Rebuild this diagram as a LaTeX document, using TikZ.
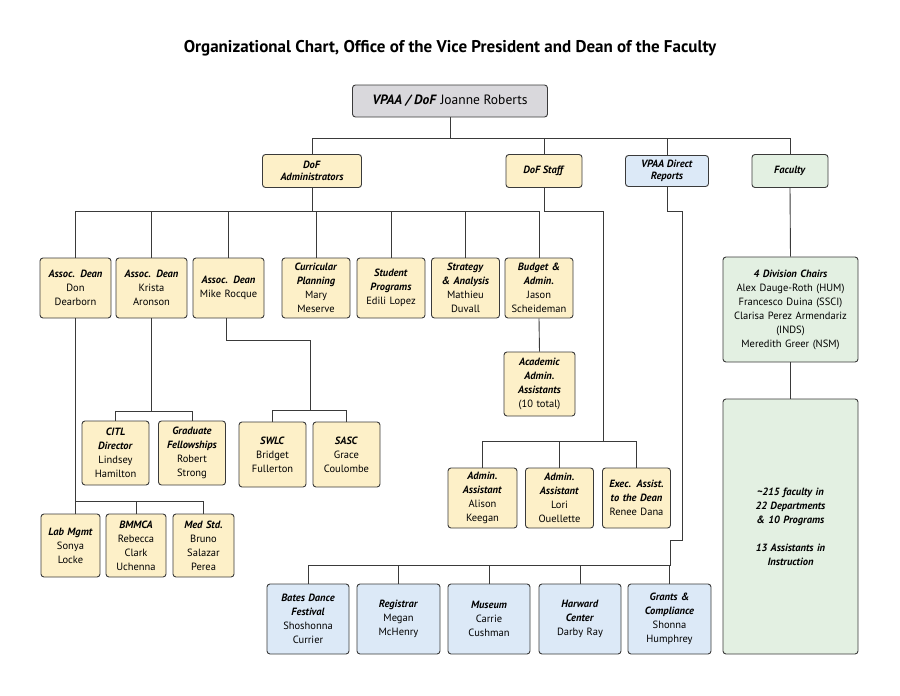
\documentclass[tikz,border=0pt]{standalone}
\usepackage{fontspec}
\setmainfont{PT Sans}
\usepackage{tikz}
\usetikzlibrary{positioning}
\definecolor{cream}{HTML}{FDF0C8}
\definecolor{skyish}{HTML}{DCE9F7}
\definecolor{sage}{HTML}{E3F0E2}
\definecolor{greyish}{HTML}{D9D8DC}
\definecolor{edge}{HTML}{3A3A3A}
\newcommand\role[1]{\textbf{\textit{#1}}}
\begin{document}
\begin{tikzpicture}[x=1pt,y=-1pt,font=\fontsize{10.5}{14}\selectfont]
\tikzstyle{box}=[draw=edge,line width=0.9pt,rounded corners=3pt,align=center,inner sep=1pt,minimum height=60pt]
\tikzstyle{dof}=[box,fill=cream]
\tikzstyle{dir}=[box,fill=skyish]
\tikzstyle{fac}=[box,fill=sage]
\tikzstyle{link}=[draw=edge,line width=0.9pt]
\useasboundingbox (0,0) rectangle (900,696);
\node[font=\fontsize{17}{20}\selectfont\bfseries] (title) at (450,48) {Organizational Chart, Office of the Vice President and Dean of the Faculty};
% top level
\node[box,fill=greyish,minimum width=195pt,minimum height=32pt,font=\fontsize{13.5}{16}\selectfont] (vpaa) at (450,101) {\role{VPAA / DoF} Joanne Roberts};
\node[dof,minimum width=99pt,minimum height=33pt,text width=95pt,font=\fontsize{10.5}{12.5}\selectfont] (dofadm) at (312,171) {\role{DoF}\\\role{Administrators}};
\node[dof,minimum width=76pt,minimum height=33pt] (dofstaff) at (544,171) {\role{DoF Staff}};
\node[dir,minimum width=83pt,minimum height=31pt,font=\fontsize{10.5}{12.5}\selectfont] (vpaadir) at (667,171) {\role{VPAA Direct}\\\role{Reports}};
\node[fac,minimum width=76pt,minimum height=33pt] (faculty) at (790,171) {\role{Faculty}};
\foreach \c in {dofadm,dofstaff,vpaadir,faculty}
  \draw[link] (vpaa.south) -- ++(0,21) -| (\c.north);
% administrators
\node[dof,minimum width=71pt,text width=69pt] (don) at (75.5,288) {\role{Assoc. Dean}\\Don\\Dearborn};
\node[dof,minimum width=71pt,text width=69pt] (krista) at (151.5,288) {\role{Assoc. Dean}\\Krista\\Aronson};
\node[dof,minimum width=71pt,text width=69pt] (mike) at (228.5,288) {\role{Assoc. Dean}\\Mike Rocque};
\node[dof,minimum width=68pt,text width=66pt] (curric) at (316,288) {\role{Curricular}\\\role{Planning}\\Mary\\Meserve};
\node[dof,minimum width=68pt,text width=66pt] (studprog) at (391,288) {\role{Student}\\\role{Programs}\\Edili Lopez};
\node[dof,minimum width=67pt,text width=66pt] (strategy) at (465.5,288) {\role{Strategy}\\\role{\& Analysis}\\Mathieu\\Duvall};
\node[dof,minimum width=68pt,text width=66pt] (budget) at (539,288) {\role{Budget \&}\\\role{Admin.}\\Jason\\Scheideman};
\foreach \c in {don,krista,mike,curric,studprog,strategy,budget}
  \draw[link] (dofadm.south) -- ++(0,23) -| (\c.north);
\node[dof,minimum width=71pt,text width=69pt,minimum height=64pt] (acadasst) at (539.5,384) {\role{Academic}\\\role{Admin.}\\\role{Assistants}\\(10 total)};
\draw[link] (budget.south) -- (acadasst.north);
% staff
\coordinate (stf) at (603,441);
\node[dof,minimum width=69pt,text width=67pt] (alison) at (482.5,498) {\role{Admin.}\\\role{Assistant}\\Alison\\Keegan};
\node[dof,minimum width=67pt,text width=66pt] (lori) at (559.5,498) {\role{Admin.}\\\role{Assistant}\\Lori\\Ouellette};
\node[dof,minimum width=67pt,text width=66pt] (exec) at (636.5,498) {\role{Exec. Assist.}\\\role{to the Dean}\\Renee Dana};
\draw[link] (dofstaff.south) -- ++(0,23) -| (stf);
\foreach \c in {alison,lori,exec}
  \draw[link] (stf) -| (\c.north);
% associate dean units
\node[dof,minimum width=67pt,text width=65pt,minimum height=64pt] (citl) at (115.5,453) {\role{CITL}\\\role{Director}\\Lindsey\\Hamilton};
\node[dof,minimum width=66pt,text width=65pt,minimum height=64pt] (gradfel) at (192,453) {\role{Graduate}\\\role{Fellowships}\\Robert\\Strong};
\foreach \c in {citl,gradfel}
  \draw[link] (krista.south) -- ++(0,93) -| (\c.north);
\node[dof,minimum width=67pt,text width=65pt,minimum height=65pt] (swlc) at (272.5,454.5) {\role{SWLC}\\Bridget\\Fullerton};
\node[dof,minimum width=67pt,text width=65pt,minimum height=65pt] (sasc) at (346.5,454.5) {\role{SASC}\\Grace\\Coulombe};
\foreach \c in {swlc,sasc}
  \draw[link] (mike.south) ++(-2.5,0) -- ++(0,22) -- ++(84,0) -- ++(0,70) -| (\c.north);
\node[dof,minimum width=57pt,text width=57pt,minimum height=63pt] (labmgmt) at (70.5,545.5) {\role{Lab Mgmt}\\Sonya\\Locke};
\node[dof,minimum width=60pt,text width=58pt,minimum height=63pt] (bmmca) at (136,545.5) {\role{BMMCA}\\Rebecca\\Clark\\Uchenna};
\node[dof,minimum width=61pt,text width=59pt,minimum height=63pt] (medstd) at (203.5,545.5) {\role{Med Std.}\\Bruno\\Salazar\\Perea};
\draw[link] (don.south) -- (don.south |- labmgmt.north);
\foreach \c in {bmmca,medstd}
  \draw[link] (don.south) -- ++(0,183) -| (\c.north);
% direct reports
\coordinate (vd) at (670,565);
\draw[link] (vpaadir.south) -- ++(0,24) -- ++(15,0) -- ++(0,329) -- ++(-12,0) -- (vd);
\node[dir,minimum width=82pt,text width=80pt,minimum height=70pt] (bates) at (308,619) {\role{Bates Dance}\\\role{Festival}\\Shoshonna\\Currier};
\node[dir,minimum width=83pt,text width=80pt,minimum height=70pt] (registrar) at (398.5,619) {\role{Registrar}\\Megan\\McHenry};
\node[dir,minimum width=82pt,text width=80pt,minimum height=70pt] (museum) at (489,619) {\role{Museum}\\Carrie\\Cushman};
\node[dir,minimum width=82pt,text width=80pt,minimum height=70pt] (harward) at (580,619) {\role{Harward}\\\role{Center}\\Darby Ray};
\node[dir,minimum width=83pt,text width=80pt,minimum height=70pt] (grants) at (669.5,619) {\role{Grants \&}\\\role{Compliance}\\Shonna\\Humphrey};
\foreach \c in {bates,registrar,museum,harward,grants}
  \draw[link] (vd) -| (\c.north);
% faculty
\node[fac,minimum width=135pt,text width=133pt,minimum height=105pt] (chairs) at (790.5,309.5) {\role{4 Division Chairs}\\Alex Dauge-Roth (HUM)\\Francesco Duina (SSCI)\\Clarisa Perez Armendariz\\(INDS)\\Meredith Greer (NSM)};
\node[fac,minimum width=135pt,text width=133pt,minimum height=255pt] (facbody) at (790.5,526.5) {\role{\textasciitilde215 faculty in}\\\role{22 Departments}\\\role{\& 10 Programs}\\[14pt]\role{13 Assistants in}\\\role{Instruction}};
\draw[link] (faculty.south) -- (chairs.north);
\draw[link] (chairs.south) -- (facbody.north);
\end{tikzpicture}
\end{document}
